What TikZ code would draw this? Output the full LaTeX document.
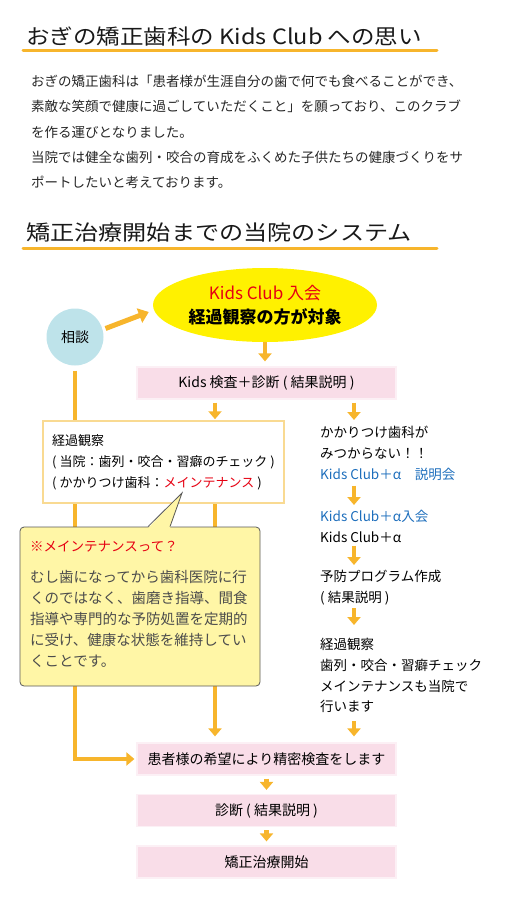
\documentclass[tikz,border=0pt]{standalone}
\usepackage{fontspec}
\usepackage{graphicx}
\setmainfont{Noto Sans CJK JP}
\usetikzlibrary{shapes.geometric,arrows.meta,backgrounds}

\definecolor{kidsorange}{HTML}{F7B52C}
\definecolor{kidspink}{HTML}{F9DDE8}
\definecolor{kidsred}{HTML}{E60012}
\definecolor{kidsblue}{HTML}{1D6EBC}
\definecolor{clubyellow}{HTML}{FFF100}
\definecolor{soudanblue}{HTML}{BEE3EA}
\definecolor{keikaline}{HTML}{F9DA92}
\definecolor{noteyellow}{HTML}{FFF6A6}

\begin{document}
\begin{tikzpicture}[x=1pt, y=-1pt,
        heading/.style={anchor=west, inner sep=0pt, font=\fontsize{21}{21}\selectfont, text=black!90},
        underline/.style={draw=kidsorange, line width=3pt, line cap=round},
        para/.style={anchor=north west, inner sep=0pt, align=left, font=\fontsize{13.5}{25.3}\selectfont, text=black!85},
        soudanc/.style={circle, fill=soudanblue, minimum size=57pt, inner sep=0pt, font=\fontsize{14}{14}\selectfont},
        club/.style={ellipse, fill=clubyellow, minimum width=224pt, minimum height=74pt, inner sep=0pt, align=center, font=\fontsize{17}{24}\selectfont},
        pinkbox/.style={rectangle, fill=kidspink, draw=kidspink!45!white, line width=1.2pt, minimum width=259pt, minimum height=32pt, inner sep=0pt, font=\fontsize{14}{14}\selectfont},
        keikabox/.style={rectangle, fill=white, draw=keikaline, line width=1.5pt, minimum width=241pt, minimum height=82pt, inner xsep=9pt, align=left, font=\fontsize{13}{21}\selectfont},
        notebox/.style={rectangle, fill=noteyellow, draw=black!65, line width=0.8pt, rounded corners=4pt, minimum width=240pt, minimum height=159pt},
        notetext/.style={anchor=north west, inner sep=0pt, align=left, text=black!70, font=\fontsize{14.5}{21}\selectfont},
        rtext/.style={anchor=north west, inner sep=0pt, align=left, font=\fontsize{13.5}{20.8}\selectfont},
        flow/.style={draw=kidsorange, line width=4.5pt, -{Triangle[width=13pt,length=8pt]}, shorten <=3pt, shorten >=5pt},
        bigarrow/.style={draw=kidsorange, line width=5pt, -{Triangle[width=15pt,length=10pt]}}
    ]
    \useasboundingbox (0,0) rectangle (510,900);

    % greeting
    \node[heading] (head1) at (26,37) {\scalebox{1.12}[1]{おぎの矯正歯科の Kids Club への思い}};
    \draw[underline] (23,50) -- (437,50);
    \node[para] (intro) at (31,75) {おぎの矯正歯科は「患者様が生涯自分の歯で何でも食べることができ、\\素敵な笑顔で健康に過ごしていただくこと」を願っており、このクラブ\\を作る運びとなりました。\\当院では健全な歯列・咬合の育成をふくめた子供たちの健康づくりをサ\\ポートしたいと考えております。};

    % system
    \node[heading] (head2) at (26,233) {\scalebox{1.15}[1]{矯正治療開始までの当院のシステム}};
    \draw[underline] (23,248) -- (437,248);

    \coordinate (lcol) at (215,0);
    \coordinate (rcol) at (354,0);
    \coordinate (tip) at (182,493);

    \node[soudanc] (soudan) at (75,337) {相談};
    \node[club] (club) at (265,305) {\textcolor{kidsred}{Kids Club 入会}\\\textbf{経過観察の方が対象}};
    \node[pinkbox] (kensa) at (266.5,383) {Kids 検査＋診断 ( 結果説明 )};
    \node[keikabox] (keika) at (163.5,462) {経過観察\\( 当院：歯列・咬合・習癖のチェック )\\( かかりつけ歯科：\textcolor{kidsred}{メインテナンス} )};

    % note
    \node[notebox] (note) at (140,606.5) {};
    \fill[noteyellow] ([xshift=8pt,yshift=-1.5pt]note.north) -- (tip) -- ([xshift=30pt,yshift=-1.5pt]note.north) -- cycle;
    \draw[black!65, line width=0.8pt] ([xshift=8pt]note.north) -- (tip) -- ([xshift=30pt]note.north);
    \node[notetext] (notetxt) at (30,541) {{\fontsize{13.5}{21}\selectfont\color{kidsred}※メインテナンスって？}\\[10pt]むし歯になってから歯科医院に行\\くのではなく、歯磨き指導、間食\\指導や専門的な予防処置を定期的\\に受け、健康な状態を維持してい\\くことです。};

    % right column
    \node[rtext] (r1) at (320,426) {かかりつけ歯科が\\みつからない！！\\\textcolor{kidsblue}{Kids Club＋α　説明会}};
    \node[rtext] (r2) at (320,510) {\textcolor{kidsblue}{Kids Club＋α入会}\\Kids Club＋α};
    \node[rtext] (r3) at (320,570) {予防プログラム作成\\( 結果説明 )};
    \node[rtext] (r4) at (320,638) {経過観察\\歯列・咬合・習癖チェック\\メインテナンスも当院で\\行います};

    \node[pinkbox] (seimitsu) at (266.5,759) {患者様の希望により精密検査をします};
    \node[pinkbox] (shindan) at (266.5,810.5) {診断 ( 結果説明 )};
    \node[pinkbox] (kaishi) at (266.5,862) {矯正治療開始};

    \begin{scope}[on background layer]
        \draw[flow, shorten <=5pt, shorten >=2pt] (soudan.south) |- (seimitsu.west);
        \draw[flow, shorten <=0pt, shorten >=6pt] (keika.south -| lcol) -- (seimitsu.north -| lcol);
    \end{scope}

    \draw[bigarrow, shorten <=3pt] (soudan.15) -- ([xshift=-4pt,yshift=-7pt]club.west);
    \draw[flow, shorten <=0pt] (club.south) -- (club.south |- kensa.north);
    \draw[flow, shorten >=1pt] (kensa.south -| lcol) -- (keika.north -| lcol);
    \draw[flow, shorten >=6pt] (kensa.south -| rcol) -- (r1.north -| rcol);
    \draw[flow, shorten <=5pt] (r1.south -| rcol) -- (r2.north -| rcol);
    \draw[flow] (r2.south -| rcol) -- (r3.north -| rcol);
    \draw[flow, shorten >=13pt] (r3.south -| rcol) -- (r4.north -| rcol);
    \draw[flow, shorten <=8pt, shorten >=6pt] (r4.south -| rcol) -- (seimitsu.north -| rcol);
    \draw[flow, shorten >=4pt] (seimitsu.south) -- (shindan.north);
    \draw[flow, shorten >=4pt] (shindan.south) -- (kaishi.north);
\end{tikzpicture}
\end{document}
